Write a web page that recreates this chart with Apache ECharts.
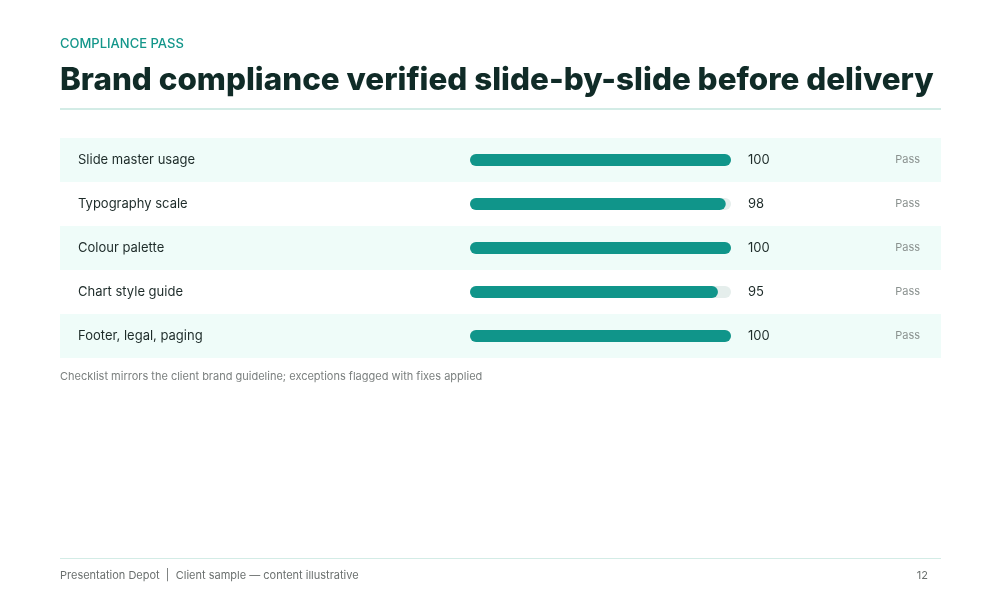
<!DOCTYPE html>
<html>
<head>
<meta charset="utf-8">
<script src="https://cdn.jsdelivr.net/npm/echarts@6/dist/echarts.min.js"></script>
<style>
  html, body { margin: 0; padding: 0; background: #fff; }
  #chart { width: 1000px; height: 600px; }
</style>
</head>
<body>
<div id="chart"></div>
<script>
var checks = ['Slide master usage', 'Typography scale', 'Colour palette', 'Chart style guide', 'Footer, legal, paging'];
var scores = [100, 98, 100, 95, 100];
var verdicts = ['Pass', 'Pass', 'Pass', 'Pass', 'Pass'];

var font = 'Inter';
var myChart = echarts.init(document.getElementById('chart'));

var option = {
  backgroundColor: '#ffffff',
  animation: false,
  textStyle: { fontFamily: font },
  graphic: [
    { type: 'text', left: 60, top: 38, style: { text: 'COMPLIANCE PASS', fill: '#13968a', font: '500 13px ' + font } },
    { type: 'text', left: 60, top: 65, style: { text: 'Brand compliance verified slide-by-slide before delivery', fill: '#102b27', font: '800 31.4px ' + font } },
    { type: 'rect', shape: { x: 60, y: 108, width: 881, height: 2 }, style: { fill: '#d3ece6' } },
    { type: 'text', left: 60, top: 371, style: { text: 'Checklist mirrors the client brand guideline; exceptions flagged with fixes applied', fill: '#7a7f7e', font: '11px ' + font } },
    { type: 'rect', shape: { x: 60, y: 558, width: 881, height: 1 }, style: { fill: '#d3ece6' } },
    { type: 'text', left: 60, top: 570, style: { text: 'Presentation Depot  |  Client sample \u2014 content illustrative', fill: '#6b706f', font: '11px ' + font } },
    { type: 'text', right: 72, top: 570, style: { text: '12', fill: '#6b706f', font: '11px ' + font } }
  ],
  grid: [
    { left: 60, width: 881, top: 138, height: 220 },
    { left: 470, width: 261, top: 138, height: 220 }
  ],
  xAxis: [
    { gridIndex: 0, type: 'value', min: 0, max: 100, show: false },
    { gridIndex: 1, type: 'value', min: 0, max: 100, show: false }
  ],
  yAxis: [
    {
      gridIndex: 0, type: 'category', data: checks, inverse: true,
      axisLine: { show: false }, axisTick: { show: false },
      splitArea: { show: true, areaStyle: { color: ['#effcf9', '#ffffff'] } },
      axisLabel: { inside: true, margin: 18, color: '#1d2b29', fontSize: 13, fontFamily: font, padding: [4, 0, 0, 0] }
    },
    {
      gridIndex: 0, type: 'category', data: verdicts, inverse: true, position: 'right',
      axisLine: { show: false }, axisTick: { show: false },
      axisLabel: { inside: true, margin: 21, color: '#8a918f', fontSize: 11, fontFamily: font }
    },
    {
      gridIndex: 1, type: 'category', data: scores.map(String), inverse: true, position: 'right',
      axisLine: { show: false }, axisTick: { show: false },
      axisLabel: { margin: 17, color: '#1d2b29', fontSize: 13, fontFamily: font, align: 'left', padding: [4, 0, 0, 0] }
    },
    {
      gridIndex: 1, type: 'category', data: checks, inverse: true, show: false
    }
  ],
  series: [
    {
      type: 'bar',
      xAxisIndex: 1,
      yAxisIndex: 3,
      data: scores,
      barWidth: 12,
      showBackground: true,
      backgroundStyle: { color: '#e5eeec', borderRadius: 6 },
      itemStyle: { color: '#10958a', borderRadius: 6 }
    }
  ]
};

myChart.setOption(option);
</script>
</body>
</html>
